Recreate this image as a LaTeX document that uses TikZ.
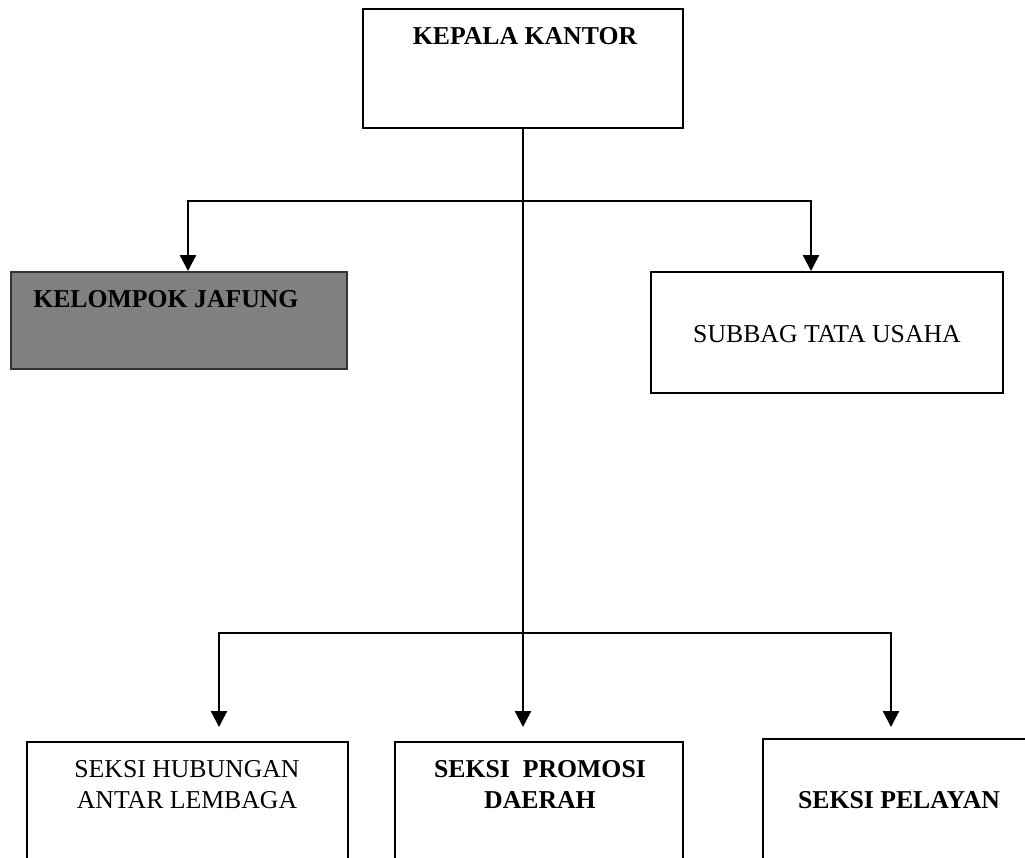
\documentclass[tikz,border=0pt]{standalone}
\usepackage{fontspec}
\setmainfont{Liberation Serif}
\usetikzlibrary{arrows.meta}

\begin{document}
\begin{tikzpicture}
[x=0.025cm,y=-0.025cm,%
  lineDecorate/.style={line width=1.6pt,-{Triangle[width=0.4cm,length=0.4cm]}},%
  boxDecorate/.style={shape=rectangle,draw,line width=1.4pt,inner sep=0pt},%
  textDecorate/.style={inner sep=0pt,font=\fontsize{18.3}{21.5}\selectfont,align=center}]
\useasboundingbox (0,0) rectangle (1025,857);
\clip (0,0) rectangle (1025,857);
%% boxes
\node (kepala) at (523,68.5) [boxDecorate,minimum width=8cm,minimum height=2.975cm] {};
\node (jafung) at (179,320.5) [boxDecorate,draw=black!80,fill=gray,minimum width=8.4cm,minimum height=2.425cm] {};
\node (subbag) at (827,332.5) [boxDecorate,minimum width=8.8cm,minimum height=3.025cm] {};
\node (hubungan) at (187.5,821) [boxDecorate,minimum width=8.025cm,minimum height=3.95cm] {};
\node (promosi) at (539,821) [boxDecorate,minimum width=7.2cm,minimum height=3.95cm] {};
\node (pelayan) at (901.5,819.5) [boxDecorate,minimum width=6.925cm,minimum height=4.025cm] {};
%% texts
\node (kepalaText) at (525,36) [textDecorate] {\bfseries KEPALA KANTOR};
\node (jafungText) at (33,299) [textDecorate,anchor=west] {\bfseries KELOMPOK JAFUNG};
\node (subbagText) at (827,334) [textDecorate] {SUBBAG TATA USAHA};
\node (hubunganText) at (187,784.5) [textDecorate] {SEKSI HUBUNGAN\\ANTAR LEMBAGA};
\node (promosiText) at (540,784.5) [textDecorate] {\bfseries SEKSI\ \ PROMOSI\\\bfseries DAERAH};
\node (pelayanText) at (899,800.5) [textDecorate] {\bfseries SEKSI PELAYAN};
%% lines
\coordinate (atas) at (523,201);
\coordinate (bawah) at (523,633);
\draw[lineDecorate,shorten >=0.35cm] (kepala.south) -- (kepala.south |- promosi.north);
\draw[lineDecorate] (atas) -| ([xshift=0.225cm]jafung.north);
\draw[lineDecorate] (atas) -| ([xshift=-0.4cm]subbag.north);
\draw[lineDecorate,shorten >=0.35cm] (bawah) -| ([xshift=0.7875cm]hubungan.north);
\draw[lineDecorate,shorten >=0.275cm] (bawah) -| ([xshift=-0.2625cm]pelayan.north);
\end{tikzpicture}
\end{document}
